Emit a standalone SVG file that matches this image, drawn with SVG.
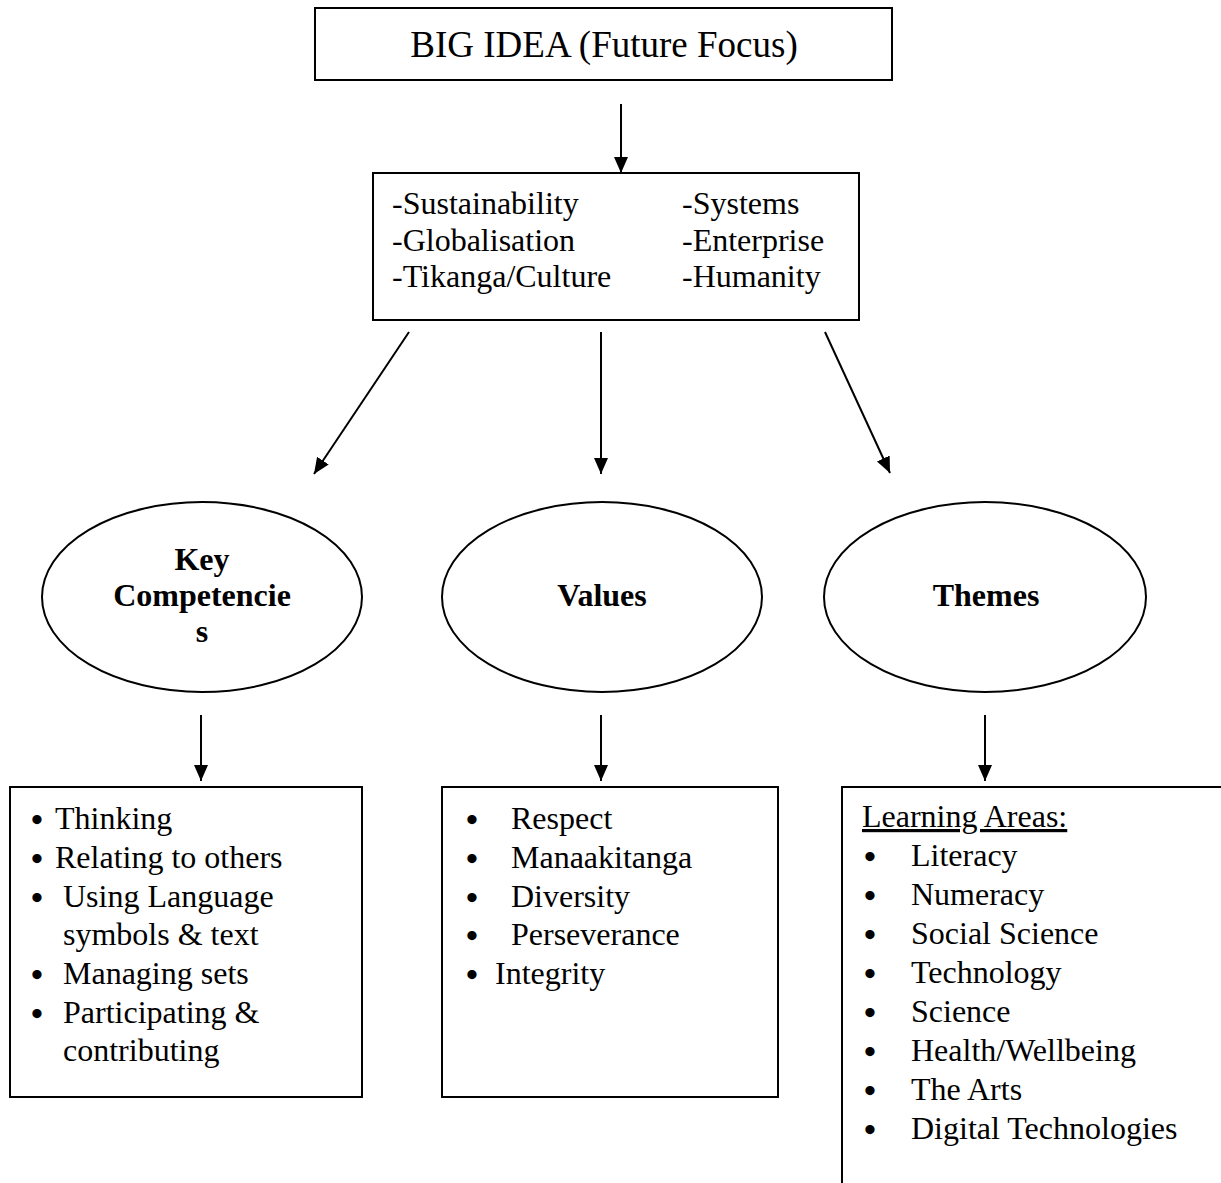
<svg xmlns="http://www.w3.org/2000/svg" width="1221" height="1183" viewBox="0 0 1221 1183">
<defs>
<marker id="ah" markerUnits="userSpaceOnUse" markerWidth="16" markerHeight="16" viewBox="0 0 16 16" refX="16" refY="8" orient="auto">
<path d="M0,1 L16,8 L0,15 Z" fill="#000"/>
</marker>
</defs>
<style>
.box{fill:#fff;stroke:#000;stroke-width:2}
.el{fill:#fff;stroke:#000;stroke-width:2}
.t{font-family:"Liberation Serif","Times New Roman",serif;font-size:32px;fill:#000}
.d{font-family:"Liberation Serif","Times New Roman",serif;font-size:34px;font-weight:bold;fill:#000;text-anchor:middle}
.h{font-family:"Liberation Serif","Times New Roman",serif;font-size:37px;fill:#000}
.b{font-family:"Liberation Serif","Times New Roman",serif;font-size:32px;font-weight:bold;fill:#000}
.c{stroke:#000;stroke-width:2;fill:none;marker-end:url(#ah)}
</style>
<rect width="1221" height="1183" fill="#fff"/>
<g id="connectors">
<line class="c" x1="621" y1="104" x2="621" y2="173"/>
<line class="c" x1="409" y1="332" x2="314" y2="474"/>
<line class="c" x1="601" y1="332" x2="601" y2="474"/>
<line class="c" x1="825" y1="332" x2="890" y2="473"/>
<line class="c" x1="201" y1="715" x2="201" y2="781"/>
<line class="c" x1="601" y1="715" x2="601" y2="781"/>
<line class="c" x1="985" y1="715" x2="985" y2="781"/>
</g>
<g id="big-idea">
<rect class="box" x="315" y="8" width="577" height="72"/>
<text class="h" x="604" y="57" text-anchor="middle">BIG IDEA (Future Focus)</text>
</g>
<g id="concepts">
<rect class="box" x="373" y="173" width="486" height="147"/>
<text class="t" x="392" y="214">-Sustainability</text>
<text class="t" x="392" y="251">-Globalisation</text>
<text class="t" x="392" y="287">-Tikanga/Culture</text>
<text class="t" x="682" y="214">-Systems</text>
<text class="t" x="682" y="251">-Enterprise</text>
<text class="t" x="682" y="287">-Humanity</text>
</g>
<g id="key-competencies">
<ellipse class="el" cx="202" cy="597" rx="160" ry="95"/>
<text class="b" x="202" y="570" text-anchor="middle">Key</text>
<text class="b" x="202" y="606" text-anchor="middle">Competencie</text>
<text class="b" x="202" y="642" text-anchor="middle">s</text>
</g>
<g id="values">
<ellipse class="el" cx="602" cy="597" rx="160" ry="95"/>
<text class="b" x="602" y="606" text-anchor="middle">Values</text>
</g>
<g id="themes">
<ellipse class="el" cx="985" cy="597" rx="161" ry="95"/>
<text class="b" x="986" y="606" text-anchor="middle">Themes</text>
</g>
<g id="competencies-list">
<rect class="box" x="10" y="787" width="352" height="310"/>
<text class="d" x="37" y="831">•</text><text class="t" x="55" y="829">Thinking</text>
<text class="d" x="37" y="870">•</text><text class="t" x="55" y="868">Relating to others</text>
<text class="d" x="37" y="909">•</text><text class="t" x="63" y="907">Using Language</text>
<text class="t" x="63" y="945">symbols &amp; text</text>
<text class="d" x="37" y="986">•</text><text class="t" x="63" y="984">Managing sets</text>
<text class="d" x="37" y="1025">•</text><text class="t" x="63" y="1023">Participating &amp;</text>
<text class="t" x="63" y="1061">contributing</text>
</g>
<g id="values-list">
<rect class="box" x="442" y="787" width="336" height="310"/>
<text class="d" x="472" y="831">•</text><text class="t" x="511" y="829">Respect</text>
<text class="d" x="472" y="870">•</text><text class="t" x="511" y="868">Manaakitanga</text>
<text class="d" x="472" y="909">•</text><text class="t" x="511" y="907">Diversity</text>
<text class="d" x="472" y="947">•</text><text class="t" x="511" y="945">Perseverance</text>
<text class="d" x="472" y="986">•</text><text class="t" x="495" y="984">Integrity</text>
</g>
<g id="learning-areas">
<path d="M842,1183 V787 H1221" fill="none" stroke="#000" stroke-width="2"/>
<text class="t" x="862" y="827" text-decoration="underline">Learning Areas:</text>
<text class="d" x="870" y="868">•</text><text class="t" x="911" y="866">Literacy</text>
<text class="d" x="870" y="907">•</text><text class="t" x="911" y="905">Numeracy</text>
<text class="d" x="870" y="946">•</text><text class="t" x="911" y="944">Social Science</text>
<text class="d" x="870" y="985">•</text><text class="t" x="911" y="983">Technology</text>
<text class="d" x="870" y="1024">•</text><text class="t" x="911" y="1022">Science</text>
<text class="d" x="870" y="1063">•</text><text class="t" x="911" y="1061">Health/Wellbeing</text>
<text class="d" x="870" y="1102">•</text><text class="t" x="911" y="1100">The Arts</text>
<text class="d" x="870" y="1141">•</text><text class="t" x="911" y="1139">Digital Technologies</text>
</g>
</svg>
